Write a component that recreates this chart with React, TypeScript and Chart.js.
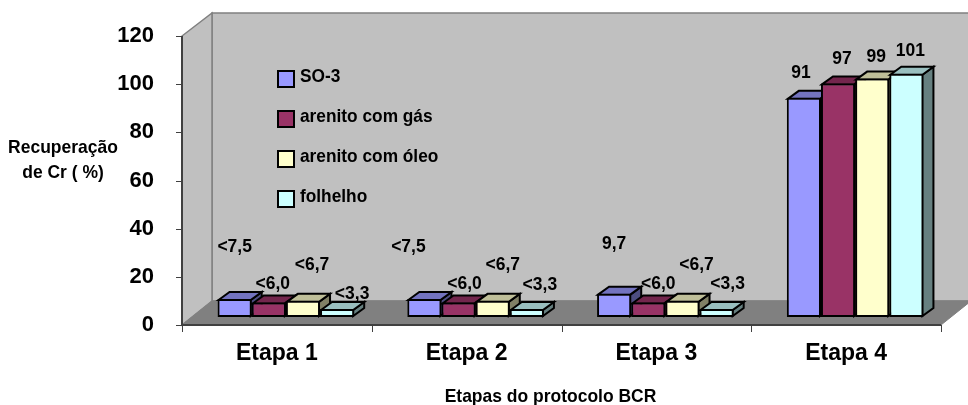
import React, { useEffect, useRef } from "react";
import { Chart, registerables } from "chart.js";

Chart.register(...registerables);

const categories = ["Etapa 1", "Etapa 2", "Etapa 3", "Etapa 4"];
const seriesNames = ["SO-3", "arenito com gás", "arenito com óleo", "folhelho"];
const so3 = [7.5, 7.5, 9.7, 91];
const arenitoGas = [6.0, 6.0, 6.0, 97];
const arenitoOleo = [6.7, 6.7, 6.7, 99];
const folhelho = [3.3, 3.3, 3.3, 101];
const labelsSo3 = ["<7,5", "<7,5", "9,7", "91"];
const labelsGas = ["<6,0", "<6,0", "<6,0", "97"];
const labelsOleo = ["<6,7", "<6,7", "<6,7", "99"];
const labelsFolhelho = ["<3,3", "<3,3", "<3,3", "101"];
const yTicks = [0, 20, 40, 60, 80, 100, 120];
const yTitle = ["Recuperação", "de Cr ( %)"];
const xTitle = "Etapas do protocolo BCR";

const front = ["#9999FF", "#993366", "#FFFFCC", "#CCFFFF"];
const tops = ["#7373BF", "#73264D", "#BFBF99", "#99BFBF"];
const sides = ["#4D4D80", "#4D1A33", "#808066", "#668080"];

const FONT = '"Liberation Sans", Arial, sans-serif';
const BAR_DX = 9, BAR_DY = -8; // bars stand a little behind the front plane
const DEPTH_X = 11, DEPTH_Y = 8; // bar depth
const WALL_X = 30, WALL_Y = 24; // floor depth
const STROKE = 2;

// label offsets from top-centre of each bar, per series then category
const labelOffsets = [
  [[0, -52], [-16, -52], [0, -50], [-3, -25]],
  [[4, -19], [6, -19], [10, -19], [4, -25]],
  [[9, -36], [10, -36], [14, -36], [4, -22]],
  [[15, -15], [13, -24], [11, -25], [4, -23]],
];
const labelTexts = [labelsSo3, labelsGas, labelsOleo, labelsFolhelho];
const legendTops = [71, 111, 151, 191];

function poly(ctx: CanvasRenderingContext2D, pts: number[][], fill: string, stroke: string, lw: number) {
  ctx.beginPath();
  pts.forEach((p, i) => (i ? ctx.lineTo(p[0], p[1]) : ctx.moveTo(p[0], p[1])));
  ctx.closePath();
  ctx.fillStyle = fill;
  ctx.fill();
  ctx.strokeStyle = stroke;
  ctx.lineWidth = lw;
  ctx.stroke();
}

function condensedText(ctx: CanvasRenderingContext2D, text: string, x: number, y: number, sx: number) {
  ctx.save();
  ctx.translate(x, y);
  ctx.scale(sx, 1);
  ctx.fillText(text, 0, 0);
  ctx.restore();
}

const scene3d = {
  id: "scene3d",
  beforeDatasetsDraw(chart: any) {
    const { ctx, chartArea: a } = chart;
    const { left, right, top, bottom } = a;
    ctx.save();
    // back wall
    poly(ctx, [[left + WALL_X, top - WALL_Y + 1], [right + WALL_X, top - WALL_Y + 1], [right + WALL_X, bottom - WALL_Y], [left + WALL_X, bottom - WALL_Y]], "#C0C0C0", "#808080", 1.5);
    // side wall
    poly(ctx, [[left, top], [left + WALL_X, top - WALL_Y + 1], [left + WALL_X, bottom - WALL_Y], [left, bottom]], "#C0C0C0", "#808080", 1.5);
    // floor
    poly(ctx, [[left, bottom], [left + WALL_X, bottom - WALL_Y], [right + WALL_X, bottom - WALL_Y], [right, bottom]], "#808080", "#808080", 1);
    // axes on the front plane
    ctx.strokeStyle = "#404040";
    ctx.lineWidth = 2;
    ctx.beginPath();
    ctx.moveTo(left, top);
    ctx.lineTo(left, bottom);
    ctx.lineTo(right, bottom);
    ctx.stroke();

    // bar tops and sides
    ctx.translate(BAR_DX, BAR_DY);
    categories.forEach((_, j) => {
      chart.data.datasets.forEach((_d: any, i: number) => {
        const b = chart.getDatasetMeta(i).data[j];
        const x0 = b.x - b.width / 2 + STROKE / 2, x1 = b.x + b.width / 2 - STROKE / 2;
        const yt = b.y + STROKE / 2, yb = b.base - STROKE / 2;
        poly(ctx, [[x1, yt], [x1 + DEPTH_X, yt - DEPTH_Y], [x1 + DEPTH_X, yb - DEPTH_Y], [x1, yb]], sides[i], "#000", STROKE);
        poly(ctx, [[x0, yt], [x0 + DEPTH_X, yt - DEPTH_Y], [x1 + DEPTH_X, yt - DEPTH_Y], [x1, yt]], tops[i], "#000", STROKE);
      });
    });
    ctx.restore();
    ctx.save();
    ctx.translate(BAR_DX, BAR_DY);
  },
  afterDatasetsDraw(chart: any) {
    const { ctx } = chart;
    ctx.restore();
    ctx.save();
    ctx.fillStyle = "#000";
    ctx.textAlign = "center";
    ctx.textBaseline = "middle";
    // data labels
    ctx.font = `bold 19px ${FONT}`;
    labelTexts.forEach((row, i) => {
      row.forEach((t, j) => {
        const b = chart.getDatasetMeta(i).data[j];
        const [dx, dy] = labelOffsets[i][j];
        condensedText(ctx, t, b.x + BAR_DX + dx, b.y + BAR_DY + dy, 0.92);
      });
    });
    // legend
    ctx.textAlign = "left";
    ctx.font = `bold 19px ${FONT}`;
    seriesNames.forEach((n, i) => {
      const y = legendTops[i];
      ctx.fillStyle = front[i];
      ctx.strokeStyle = "#000";
      ctx.lineWidth = 2;
      ctx.fillRect(278, y, 16, 16);
      ctx.strokeRect(278, y, 16, 16);
      ctx.fillStyle = "#000";
      condensedText(ctx, n, 300, y + 5.5, 0.91);
    });
    // axis titles
    ctx.textAlign = "center";
    ctx.font = `bold 19px ${FONT}`;
    condensedText(ctx, yTitle[0], 63, 148, 0.92);
    condensedText(ctx, yTitle[1], 63, 173, 0.92);
    condensedText(ctx, xTitle, 550.5, 397, 0.92);
    ctx.restore();
  },
};

export default function App() {
  const ref = useRef<HTMLCanvasElement>(null);
  useEffect(() => {
    document.body.style.margin = "0";
    const chart = new Chart(ref.current!, {
      type: "bar",
      data: {
        labels: categories,
        datasets: [so3, arenitoGas, arenitoOleo, folhelho].map((data, i) => ({
          label: seriesNames[i],
          data,
          backgroundColor: front[i],
          borderColor: "#000",
          borderWidth: STROKE,
          borderSkipped: false,
          categoryPercentage: 0.72,
          barPercentage: 1,
          clip: false as any,
        })),
      },
      options: {
        animation: false,
        responsive: false,
        devicePixelRatio: 1,
        layout: { padding: { top: 36, right: 27, left: 0, bottom: 0 } },
        plugins: { legend: { display: false }, title: { display: false }, tooltip: { enabled: false } },
        scales: {
          x: {
            grid: { display: false, drawTicks: false, tickLength: 0 },
            border: { display: false },
            ticks: { color: "#000", font: { family: FONT, weight: "bold", size: 23 }, padding: 15, maxRotation: 0 },
            afterFit(s: any) { s.height = 80; },
          },
          y: {
            min: 0,
            max: 120,
            afterBuildTicks(s: any) { s.ticks = yTicks.map((value) => ({ value })); },
            grid: { display: false, tickLength: 6, drawTicks: true, tickColor: "#333" } as any,
            border: { display: false },
            ticks: { color: "#000", font: { family: FONT, weight: "bold", size: 22 }, padding: 22 },
            afterFit(s: any) { s.width = 182; },
          },
        },
      },
      plugins: [
        scene3d,
        {
          id: "xTicks",
          afterDraw(chart: any) {
            const { ctx, chartArea: a } = chart;
            const step = (a.right - a.left) / categories.length;
            ctx.save();
            ctx.strokeStyle = "#404040";
            ctx.lineWidth = 1;
            ctx.beginPath();
            for (let i = 0; i <= categories.length; i++) {
              const x = Math.round(a.left + i * step) + 0.5;
              ctx.moveTo(x, a.bottom);
              ctx.lineTo(x, a.bottom + 7);
            }
            yTicks.forEach((v) => {
              const y = Math.round(chart.scales.y.getPixelForValue(v)) + 0.5;
              ctx.moveTo(a.left - 6, y);
              ctx.lineTo(a.left, y);
            });
            ctx.stroke();
            ctx.restore();
          },
        },
      ],
    } as any);
    return () => chart.destroy();
  }, []);
  return <canvas ref={ref} width={968} height={405} style={{ display: "block", width: 968, height: 405 }} />;
}
